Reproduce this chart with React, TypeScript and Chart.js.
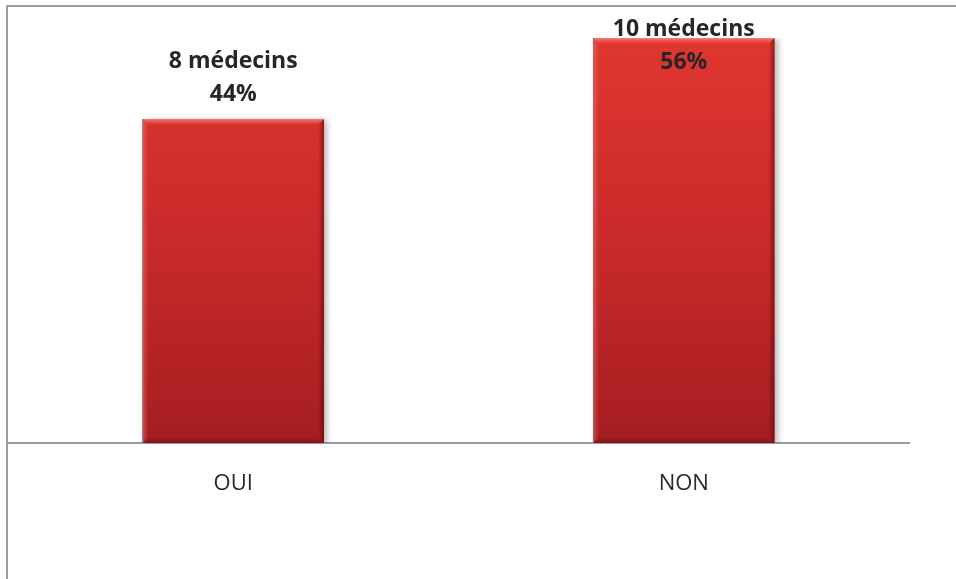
import React, { useEffect, useRef } from "react";
import { Chart, registerables } from "chart.js";

Chart.register(...registerables);

const categories = ["OUI", "NON"];
const counts = [8, 10];
const percents = ["44%", "56%"];
const countLabels = ["8 médecins", "10 médecins"];

const FONT = "'Open Sans', 'Noto Sans', sans-serif";

const framePlugin = {
  id: "frame",
  beforeDraw(chart: any) {
    const ctx = chart.ctx;
    ctx.save();
    ctx.strokeStyle = "#9e9e9e";
    ctx.lineWidth = 2;
    ctx.beginPath();
    ctx.moveTo(7, chart.height);
    ctx.lineTo(7, 6);
    ctx.lineTo(chart.width, 6);
    ctx.stroke();
    ctx.restore();
  },
};

const shadowPlugin = {
  id: "barShadow",
  beforeDatasetsDraw(chart: any) {
    const ctx = chart.ctx;
    ctx.save();
    ctx.shadowColor = "rgba(0,0,0,0.28)";
    ctx.shadowBlur = 6;
    ctx.shadowOffsetX = 3;
    ctx.shadowOffsetY = 1;
  },
  afterDatasetsDraw(chart: any) {
    chart.ctx.restore();
    const ctx = chart.ctx;
    const meta = chart.getDatasetMeta(0);
    meta.data.forEach((bar: any) => {
      const left = bar.x - bar.width / 2;
      const right = bar.x + bar.width / 2;
      const top = bar.y;
      const bottom = bar.base;
      const b = 6;
      ctx.save();
      let g = ctx.createLinearGradient(0, top, 0, top + b);
      g.addColorStop(0, "rgba(255,150,140,0.75)");
      g.addColorStop(1, "rgba(255,120,110,0)");
      ctx.fillStyle = g;
      ctx.beginPath();
      ctx.moveTo(left, top);
      ctx.lineTo(right, top);
      ctx.lineTo(right - b, top + b);
      ctx.lineTo(left + b, top + b);
      ctx.closePath();
      ctx.fill();
      g = ctx.createLinearGradient(left, 0, left + b, 0);
      g.addColorStop(0, "rgba(255,130,120,0.45)");
      g.addColorStop(1, "rgba(255,120,110,0)");
      ctx.fillStyle = g;
      ctx.beginPath();
      ctx.moveTo(left, top);
      ctx.lineTo(left + b, top + b);
      ctx.lineTo(left + b, bottom - b);
      ctx.lineTo(left, bottom);
      ctx.closePath();
      ctx.fill();
      g = ctx.createLinearGradient(right - b, 0, right, 0);
      g.addColorStop(0, "rgba(90,0,0,0)");
      g.addColorStop(1, "rgba(90,0,0,0.55)");
      ctx.fillStyle = g;
      ctx.beginPath();
      ctx.moveTo(right, top);
      ctx.lineTo(right, bottom);
      ctx.lineTo(right - b, bottom - b);
      ctx.lineTo(right - b, top + b);
      ctx.closePath();
      ctx.fill();
      g = ctx.createLinearGradient(0, bottom - b, 0, bottom);
      g.addColorStop(0, "rgba(90,0,0,0)");
      g.addColorStop(1, "rgba(90,0,0,0.35)");
      ctx.fillStyle = g;
      ctx.beginPath();
      ctx.moveTo(left, bottom);
      ctx.lineTo(right, bottom);
      ctx.lineTo(right - b, bottom - b);
      ctx.lineTo(left + b, bottom - b);
      ctx.closePath();
      ctx.fill();
      ctx.strokeStyle = "rgba(120,120,120,0.8)";
      ctx.lineWidth = 1;
      ctx.beginPath();
      ctx.moveTo(left + 0.5, top);
      ctx.lineTo(left + 0.5, bottom);
      ctx.stroke();
      ctx.restore();
    });
  },
};

const labelPlugin = {
  id: "valueLabels",
  afterDraw(chart: any) {
    const ctx = chart.ctx;
    const meta = chart.getDatasetMeta(0);
    ctx.save();
    ctx.font = `700 23px ${FONT}`;
    ctx.fillStyle = "#262626";
    ctx.textAlign = "center";
    ctx.textBaseline = "alphabetic";
    meta.data.forEach((bar: any, i: number) => {
      let base2 = bar.y - 18;
      let base1 = base2 - 33;
      const minBase1 = 36;
      if (base1 < minBase1) {
        const shift = minBase1 - base1;
        base1 += shift;
        base2 += shift;
      }
      ctx.fillText(countLabels[i], bar.x, base1);
      ctx.fillText(percents[i], bar.x, base2);
    });
    ctx.restore();
  },
};

export default function App() {
  const ref = useRef<HTMLCanvasElement | null>(null);

  useEffect(() => {
    if (!ref.current) return;
    const chart = new Chart(ref.current, {
      type: "bar",
      data: {
        labels: categories,
        datasets: [
          {
            data: counts,
            backgroundColor: (c: any) => {
              const area = c.chart.chartArea;
              if (!area) return "#c8282a";
              const g = c.chart.ctx.createLinearGradient(0, area.top, 0, area.bottom);
              g.addColorStop(0, "#e0362f");
              g.addColorStop(0.5, "#c92a2a");
              g.addColorStop(1, "#a51d21");
              return g;
            },
            borderWidth: 0,
            barPercentage: 0.403,
            categoryPercentage: 1,
          },
        ],
      },
      options: {
        responsive: false,
        animation: false,
        layout: { padding: { left: 8, right: 47, top: 38, bottom: 0 } },
        plugins: {
          legend: { display: false },
          tooltip: { enabled: false },
        },
        scales: {
          x: {
            grid: { display: false, drawTicks: false },
            border: { display: true, color: "#9a9a9a", width: 2 },
            ticks: {
              color: "#2a2a2a",
              font: { family: FONT, size: 22, weight: "normal" },
              padding: 28,
            },
            afterFit: (s: any) => {
              s.height = 136;
            },
          },
          y: {
            display: false,
            min: 0,
            max: 10,
          },
        },
      },
      plugins: [framePlugin, shadowPlugin, labelPlugin],
    });
    return () => chart.destroy();
  }, []);

  return (
    <div style={{ position: "fixed", left: 0, top: 0, width: 956, height: 579, background: "#fff" }}>
      <canvas ref={ref} width={956} height={579} style={{ display: "block" }} />
    </div>
  );
}
